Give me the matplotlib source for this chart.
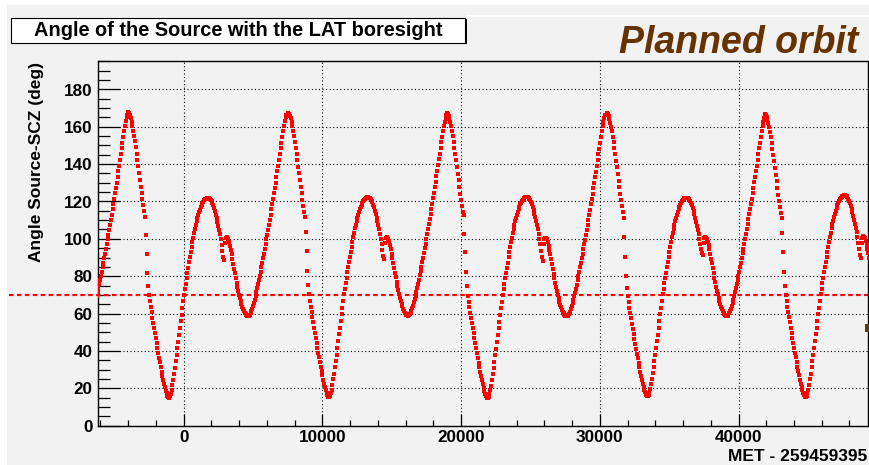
import numpy as np
import matplotlib.pyplot as plt
from matplotlib.patches import Rectangle
from matplotlib.ticker import MultipleLocator

plt.rcParams["font.family"] = ["Liberation Sans", "DejaVu Sans"]
plt.rcParams["font.weight"] = "bold"

# angle between the source and the LAT z axis, one sample every 60 s
step = 60
met_start = [-6274, -3994, 7542, 18982, 30518, 41910]

angle_0 = [
    69.3, 71.3, 73.4, 75.6, 77.8, 80.1, 82.4,
    84.8, 87.2, 89.6, 92.1, 94.6, 97.1, 99.7, 102.3, 104.9, 107.6,
    110.3, 113.0, 115.8, 118.6, 121.4, 124.3, 127.2, 130.1, 133.1, 136.1,
    139.1, 142.2, 145.3, 148.4, 151.5, 154.6, 157.6, 160.4, 162.9, 165.0,
    166.6,
]

angle_1 = [
    167.8, 167.3, 166.2, 164.7, 162.8, 160.5, 158.0, 155.2, 152.2, 149.0,
    145.7, 142.3, 138.8, 135.2, 131.6, 128.0, 124.5, 121.2, 118.0, 114.8,
    111.8, 102.0, 92.0, 81.5, 74.5, 69.8, 66.5, 63.5, 60.6, 57.8,
    55.0, 52.3, 49.6, 46.9, 44.2, 41.5, 38.9, 36.3, 33.8, 31.3,
    28.9, 26.6, 24.4, 22.3, 20.4, 18.7, 17.2, 16.0, 15.2, 14.9,
    15.6, 17.0, 19.0, 21.6, 24.5, 27.6, 30.9, 34.3, 37.8, 41.4,
    45.0, 48.6, 52.2, 55.8, 59.4, 63.0, 66.6, 70.1, 73.1, 76.0,
    78.9, 81.8, 84.6, 87.4, 90.2, 92.9, 95.6, 98.2, 100.7, 103.1,
    105.4, 107.4, 109.3, 111.1, 112.8, 114.3, 115.7, 117.0, 118.1, 119.1,
    119.9, 120.6, 121.2, 121.6, 121.9, 122.0, 122.0, 121.8, 121.4, 120.9,
    120.2, 119.2, 118.0, 116.5, 114.8, 113.0, 111.0, 109.0, 107.0, 104.8,
    102.5, 99.8, 96.8, 93.5, 90.4, 88.6, 97.5, 100.2, 100.8, 100.6,
    99.8, 98.3, 96.4, 94.2, 91.8, 89.3, 86.7, 84.1, 81.5, 79.0,
    76.6, 74.3, 72.1, 70.1, 68.2, 66.5, 64.9, 63.5, 62.2, 61.1,
    60.2, 59.5, 59.0, 58.7, 58.6, 58.8, 59.3, 60.1, 61.1, 62.4,
    63.9, 65.6, 67.4, 69.3, 71.3, 73.4, 75.6, 77.8, 80.1, 82.4,
    84.8, 87.2, 89.6, 92.1, 94.6, 97.1, 99.7, 102.3, 104.9, 107.6,
    110.3, 113.0, 115.8, 118.6, 121.4, 124.3, 127.2, 130.1, 133.1, 136.1,
    139.1, 142.2, 145.3, 148.4, 151.5, 154.6, 157.6, 160.4, 162.9, 165.0,
    166.6,
]

angle_2 = [
    167.5, 167.0, 166.0, 164.5, 162.6, 160.3, 157.8, 155.0, 152.0, 148.8,
    145.5, 142.1, 138.6, 135.0, 131.4, 127.8, 124.3, 121.0, 117.8, 114.6,
    111.5, 103.5, 93.5, 83.0, 75.5, 70.2, 66.8, 63.7, 60.8, 58.0,
    55.2, 52.5, 49.8, 47.1, 44.4, 41.7, 39.1, 36.5, 34.0, 31.5,
    29.1, 26.8, 24.6, 22.5, 20.6, 18.9, 17.4, 16.2, 15.4, 15.1,
    15.8, 17.2, 19.2, 21.8, 24.7, 27.8, 31.1, 34.5, 38.0, 41.6,
    45.2, 48.8, 52.4, 56.0, 59.6, 63.2, 66.8, 70.3, 73.3, 76.2,
    79.1, 82.0, 84.8, 87.6, 90.4, 93.1, 95.8, 98.4, 100.9, 103.3,
    105.6, 107.6, 109.5, 111.3, 113.0, 114.5, 115.9, 117.2, 118.3, 119.3,
    120.1, 120.8, 121.4, 121.8, 122.1, 122.3, 122.3, 122.1, 121.7, 121.2,
    120.5, 119.5, 118.3, 116.8, 115.1, 113.3, 111.3, 109.3, 107.2, 105.0,
    102.6, 100.0, 97.0, 93.8, 90.9, 89.3, 97.8, 100.5, 101.2, 100.9,
    100.1, 98.6, 96.7, 94.5, 92.1, 89.6, 87.0, 84.4, 81.8, 79.3,
    76.9, 74.6, 72.4, 70.4, 68.5, 66.8, 65.2, 63.8, 62.5, 61.4,
    60.5, 59.8, 59.3, 59.0, 58.9, 59.1, 59.6, 60.4, 61.4, 62.7,
    64.2, 65.9, 67.7, 69.6, 71.6, 73.7, 75.9, 78.1, 80.4, 82.7,
    85.1, 87.5, 89.9, 92.4, 94.9, 97.4, 100.0, 102.6, 105.2, 107.9,
    110.6, 113.3, 116.1, 118.9, 121.7, 124.6, 127.5, 130.4, 133.4, 136.4,
    139.4, 142.5, 145.6, 148.7, 151.8, 154.8, 157.7, 160.4, 162.8, 164.8,
    166.3,
]

angle_3 = [
    167.4, 166.9, 165.9, 164.4, 162.5, 160.2, 157.7, 154.9, 151.9, 148.7,
    145.4, 142.0, 138.5, 134.9, 131.3, 127.7, 124.2, 120.9, 117.7, 114.5,
    112.5, 102.7, 92.8, 82.1, 75.0, 69.6, 66.3, 63.3, 60.4, 57.6,
    54.8, 52.1, 49.4, 46.7, 44.0, 41.3, 38.7, 36.1, 33.6, 31.1,
    28.7, 26.4, 24.2, 22.1, 20.2, 18.5, 17.0, 15.8, 15.0, 14.7,
    15.4, 16.8, 18.8, 21.4, 24.3, 27.4, 30.7, 34.1, 37.6, 41.2,
    44.8, 48.4, 52.0, 55.6, 59.2, 62.8, 66.4, 69.9, 73.0, 75.9,
    78.8, 81.7, 84.5, 87.3, 90.1, 92.8, 95.5, 98.1, 100.6, 103.0,
    105.3, 107.4, 109.3, 111.2, 112.9, 114.5, 115.9, 117.2, 118.4, 119.4,
    120.3, 121.0, 121.6, 122.0, 122.3, 122.5, 122.5, 122.3, 121.9, 121.4,
    120.7, 119.7, 118.5, 117.0, 115.3, 113.5, 111.5, 109.4, 107.3, 105.1,
    102.7, 100.0, 97.0, 93.7, 90.5, 88.2, 97.2, 100.0, 100.7, 100.5,
    99.7, 98.2, 96.3, 94.1, 91.7, 89.2, 86.6, 84.0, 81.4, 78.9,
    76.5, 74.2, 72.0, 70.0, 68.1, 66.4, 64.8, 63.4, 62.1, 61.0,
    60.1, 59.4, 58.9, 58.6, 58.5, 58.7, 59.2, 60.0, 61.0, 62.3,
    63.8, 65.5, 67.3, 69.2, 71.2, 73.3, 75.5, 77.7, 80.0, 82.3,
    84.7, 87.1, 89.5, 92.0, 94.5, 97.0, 99.6, 102.2, 104.8, 107.5,
    110.2, 112.9, 115.7, 118.5, 121.3, 124.2, 127.1, 130.0, 133.0, 136.0,
    139.0, 142.1, 145.2, 148.3, 151.4, 154.5, 157.5, 160.3, 162.8, 164.9,
    166.4,
]

angle_4 = [
    167.2, 166.7, 165.7, 164.2, 162.3, 160.0, 157.5, 154.7, 151.7, 148.5,
    145.2, 141.8, 138.3, 134.7, 131.1, 127.5, 124.0, 120.7, 117.5, 114.3,
    111.3, 101.0, 90.5, 80.0, 73.5, 69.4, 66.1, 63.1, 60.2, 57.4,
    54.6, 51.9, 49.2, 46.5, 43.8, 41.1, 38.5, 36.0, 33.5, 31.1,
    28.8, 26.6, 24.5, 22.5, 20.7, 19.1, 17.7, 16.6, 15.9, 15.7,
    16.3, 17.6, 19.5, 22.0, 24.8, 27.9, 31.1, 34.5, 38.0, 41.5,
    45.1, 48.7, 52.3, 55.9, 59.5, 63.1, 66.7, 70.2, 73.2, 76.1,
    79.0, 81.9, 84.7, 87.5, 90.3, 93.0, 95.7, 98.3, 100.8, 103.2,
    105.5, 107.5, 109.4, 111.2, 112.9, 114.4, 115.8, 117.1, 118.2, 119.2,
    120.0, 120.7, 121.3, 121.7, 122.0, 122.1, 122.1, 121.9, 121.5, 121.0,
    120.3, 119.3, 118.1, 116.6, 114.9, 113.1, 111.1, 109.1, 107.1, 104.9,
    102.6, 100.1, 97.3, 94.5, 92.6, 91.5, 98.0, 100.4, 100.9, 100.7,
    99.9, 98.4, 96.5, 94.3, 91.9, 89.4, 86.8, 84.2, 81.6, 79.1,
    76.7, 74.4, 72.2, 70.2, 68.3, 66.6, 65.0, 63.6, 62.3, 61.2,
    60.3, 59.6, 59.1, 58.8, 58.7, 58.9, 59.4, 60.2, 61.2, 62.5,
    64.0, 65.7, 67.5, 69.4, 71.4, 73.5, 75.7, 77.9, 80.2, 82.5,
    84.9, 87.3, 89.7, 92.2, 94.7, 97.2, 99.8, 102.4, 105.0, 107.7,
    110.4, 113.1, 115.9, 118.7, 121.5, 124.4, 127.3, 130.2, 133.2, 136.2,
    139.2, 142.3, 145.4, 148.5, 151.6, 154.6, 157.5, 160.2, 162.6, 164.6,
    166.0,
]

angle_5 = [
    166.8, 166.3, 165.3, 163.8, 161.9, 159.7, 157.2, 154.4, 151.4, 148.2,
    144.9, 141.5, 138.0, 134.4, 130.8, 127.2, 123.7, 120.4, 117.2, 114.0,
    111.0, 103.0, 93.0, 82.5, 75.0, 70.0, 66.7, 63.7, 60.8, 58.0,
    55.2, 52.5, 49.8, 47.1, 44.4, 41.7, 39.1, 36.5, 34.0, 31.5,
    29.1, 26.8, 24.6, 22.5, 20.6, 18.9, 17.4, 16.2, 15.4, 15.1,
    15.8, 17.2, 19.2, 21.8, 24.7, 27.8, 31.1, 34.5, 38.0, 41.6,
    45.2, 48.8, 52.4, 56.0, 59.6, 63.2, 66.8, 70.3, 73.3, 76.2,
    79.1, 82.0, 84.8, 87.6, 90.4, 93.1, 95.8, 98.4, 100.9, 103.3,
    105.6, 107.7, 109.7, 111.6, 113.4, 115.0, 116.5, 117.9, 119.1, 120.2,
    121.1, 121.9, 122.5, 122.9, 123.2, 123.3, 123.3, 123.1, 122.7, 122.2,
    121.5, 120.5, 119.3, 117.8, 116.1, 114.3, 112.3, 110.2, 108.1, 105.9,
    103.5, 100.8, 97.8, 94.6, 91.6, 89.5, 98.0, 100.6, 101.3, 101.0,
    100.2, 98.7, 96.8, 94.6, 92.2, 89.7,
]

segments = [angle_0, angle_1, angle_2, angle_3, angle_4, angle_5]

cut_angle = 70
bkg = "#f2f2f2"
W, H = 869, 465

fig = plt.figure(figsize=(W / 100, H / 100), dpi=100, facecolor="white")
fig.patches.append(Rectangle((7 / W, 0), (W - 7) / W, (H - 5) / H,
                             transform=fig.transFigure, facecolor=bkg,
                             edgecolor="none", zorder=-10))
fig.patches.append(Rectangle((466 / W, (H - 17.5) / H), (W - 466) / W, 2 / H,
                             transform=fig.transFigure, facecolor="white",
                             edgecolor="none", zorder=-9))

ax = fig.add_axes([98 / W, (H - 425.5) / H, 769.5 / W, 364 / H])
ax.set_facecolor(bkg)

for t0, vals in zip(met_start, segments):
    t = t0 + step * np.arange(len(vals))
    ax.plot(t, vals, ls="none", marker="s", ms=3.4, mew=0, color="red", zorder=3)

ax.set_xlim(-6180, 49300)
ax.set_ylim(0, 195)

ax.xaxis.set_major_locator(MultipleLocator(10000))
ax.xaxis.set_minor_locator(MultipleLocator(2000))
ax.yaxis.set_major_locator(MultipleLocator(20))
ax.yaxis.set_minor_locator(MultipleLocator(5))
ax.tick_params(axis="both", which="both", direction="in", colors="black",
               labelsize=12.3, width=0.9)
ax.tick_params(axis="y", which="major", length=15.5, pad=4.0)
ax.tick_params(axis="y", which="minor", length=8.5)
ax.tick_params(axis="x", which="major", length=8.6, pad=3.2)
ax.tick_params(axis="x", which="minor", length=4.4)
for lab in ax.get_xticklabels() + ax.get_yticklabels():
    lab.set_fontweight("bold")

ax.grid(which="major", color="black", linestyle=(0, (1, 2.2)), linewidth=0.8)
ax.set_axisbelow(True)
for sp in ax.spines.values():
    sp.set_color("black")
    sp.set_linewidth(1.0)

# cut on the angle, drawn across the whole pad
ax.plot([-0.1157, 1.0], [cut_angle, cut_angle], transform=ax.get_yaxis_transform(),
        color="red", lw=1.5, dashes=(2.2, 1.6), clip_on=False, zorder=4)
ax.plot([1.0019], [52], transform=ax.get_yaxis_transform(), marker="s", ms=6,
        mew=0, color="#6b3a0a", clip_on=False, zorder=5)

fig.text(36.7 / W, (H - 62) / H, "Angle Source-SCZ (deg)", rotation=90,
         ha="center", va="top", fontsize=12.5, fontweight="bold")
fig.text(867 / W, (H - 456) / H, "MET - 259459395", ha="right", va="center",
         fontsize=12.5, fontweight="bold")

# title pave with shadow
fig.patches.append(Rectangle(((11 + 1.5) / W, (H - 43 - 1.5) / H), 454 / W, 25 / H,
                             transform=fig.transFigure, facecolor="black",
                             edgecolor="none", zorder=1))
fig.patches.append(Rectangle((11 / W, (H - 43) / H), 454 / W, 25 / H,
                             transform=fig.transFigure, facecolor="white",
                             edgecolor="black", linewidth=0.8, zorder=2))
fig.text(238 / W, (H - 30.5) / H, "Angle of the Source with the LAT boresight",
         ha="center", va="center", fontsize=14.4, fontweight="bold", zorder=3)

fig.text(858 / W, (H - 53) / H, "Planned orbit", ha="right", va="baseline",
         fontsize=27, fontweight="bold", fontstyle="italic", color="#663300")

fig.savefig("out.png", dpi=100)
